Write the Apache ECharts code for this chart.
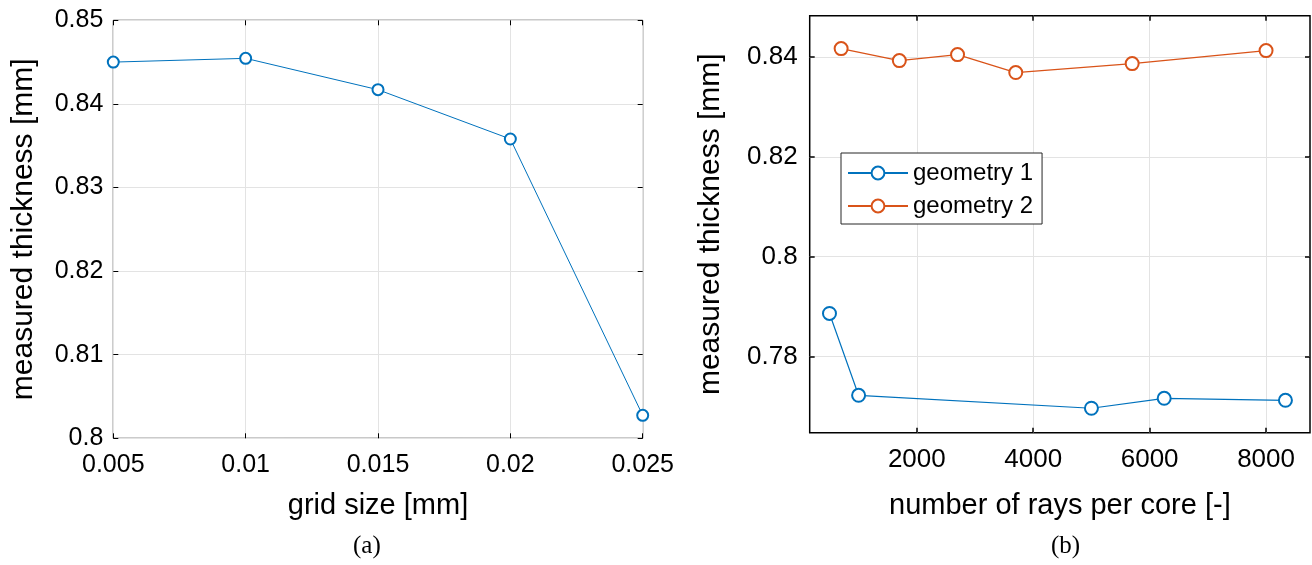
<!DOCTYPE html>
<html><head><meta charset="utf-8">
<script src="https://cdn.jsdelivr.net/npm/echarts@6/dist/echarts.min.js"></script>
<style>html,body{margin:0;padding:0;background:#fff}#c{width:1312px;height:565px}</style>
</head><body><div id="c"></div>
<script>
// (a) grid size study
const gridSize = [0.005, 0.010, 0.015, 0.020, 0.025];
const thicknessA = [0.8450, 0.84545, 0.8417, 0.8358, 0.80275];
// (b) rays per core study
const raysGeom1 = [500, 1000, 5000, 6250, 8333];
const thicknessGeom1 = [0.7886, 0.7722, 0.7696, 0.7716, 0.7712];
const raysGeom2 = [700, 1700, 2700, 3700, 5700, 8000];
const thicknessGeom2 = [0.8417, 0.8393, 0.8405, 0.8369, 0.8387, 0.8413];
const xTicksB = [2000, 4000, 6000, 8000];
const yTicksB = [0.78, 0.80, 0.82, 0.84];
const seriesNames = ['geometry 1', 'geometry 2'];
const captions = ['(a)', '(b)'];
const axisTitles = { xa: 'grid size [mm]', xb: 'number of rays per core [-]', y: 'measured thickness [mm]' };

const BLUE = '#0072BD', ORANGE = '#D95319';
const SANS = '"Liberation Sans", Arial, sans-serif';
const SERIF = '"Liberation Serif", "Times New Roman", serif';
const gridLine = { show: true, lineStyle: { color: '#e3e3e3', width: 1 } };

function pair(a, b) { return a.map((v, i) => [v, b[i]]); }

const chart = echarts.init(document.getElementById('c'), null, { renderer: 'canvas' });
const yFmtB = v => String(+(+v).toFixed(2));

const option = {
  animation: false,
  backgroundColor: '#fff',
  grid: [
    { left: 113.3, top: 20.3, width: 529.4, height: 418, show: true, borderColor: '#000', borderWidth: 1, backgroundColor: 'transparent' },
    { left: 809.7, top: 15.7, width: 500.3, height: 417, show: true, borderColor: '#000', borderWidth: 1.5, backgroundColor: 'transparent' }
  ],
  title: [
    { text: captions[0], left: 353, top: 534, padding: 0, textStyle: { fontFamily: SERIF, fontSize: 25, fontWeight: 'normal', color: '#000' } },
    { text: captions[1], left: 1051, top: 534, padding: 0, textStyle: { fontFamily: SERIF, fontSize: 25, fontWeight: 'normal', color: '#000' } }
  ],
  legend: {
    data: seriesNames, orient: 'vertical', left: 841, top: 153,
    itemWidth: 60, itemHeight: 16, itemGap: 9, padding: [8, 9, 6, 6],
    borderColor: '#262626', borderWidth: 1, backgroundColor: '#fff', borderRadius: 0,
    selectedMode: false,
    textStyle: { fontFamily: SANS, fontSize: 24, color: '#000' }
  },
  xAxis: [
    { type: 'value', gridIndex: 0, min: 0.005, max: 0.025, interval: 0.005,
      name: axisTitles.xa, nameLocation: 'middle', nameGap: 53,
      nameTextStyle: { fontFamily: SANS, fontSize: 29, color: '#000' },
      axisLine: { show: false }, axisTick: { inside: true, length: 5, lineStyle: { color: '#000' } },
      axisLabel: { fontFamily: SANS, fontSize: 25, color: '#000', margin: 14 }, splitLine: gridLine },
    { type: 'value', gridIndex: 0, position: 'top', min: 0.005, max: 0.025, interval: 0.005,
      axisLine: { show: false }, axisTick: { inside: true, length: 5, lineStyle: { color: '#000' } },
      axisLabel: { show: false }, splitLine: { show: false } },
    { type: 'value', gridIndex: 1, min: 160, max: 8755,
      name: axisTitles.xb, nameLocation: 'middle', nameGap: 59,
      nameTextStyle: { fontFamily: SANS, fontSize: 29, color: '#000' },
      axisLine: { show: false },
      axisTick: { inside: true, length: 5, customValues: xTicksB, lineStyle: { color: '#000', width: 1.5 } },
      axisLabel: { fontFamily: SANS, fontSize: 26, color: '#000', margin: 14, customValues: xTicksB, formatter: v => String(v) },
      splitLine: gridLine },
    { type: 'value', gridIndex: 1, position: 'top', min: 160, max: 8755,
      axisLine: { show: false },
      axisTick: { inside: true, length: 5, customValues: xTicksB, lineStyle: { color: '#000', width: 1.5 } },
      axisLabel: { show: false, customValues: xTicksB }, splitLine: { show: false } }
  ],
  yAxis: [
    { type: 'value', gridIndex: 0, min: 0.8, max: 0.85, interval: 0.01,
      name: axisTitles.y, nameLocation: 'middle', nameGap: 75,
      nameTextStyle: { fontFamily: SANS, fontSize: 30, color: '#000' },
      axisLine: { show: false }, axisTick: { inside: true, length: 5, lineStyle: { color: '#000' } },
      axisLabel: { fontFamily: SANS, fontSize: 25, color: '#000', margin: 10 }, splitLine: gridLine },
    { type: 'value', gridIndex: 0, position: 'right', min: 0.8, max: 0.85, interval: 0.01,
      axisLine: { show: false }, axisTick: { inside: true, length: 5, lineStyle: { color: '#000' } },
      axisLabel: { show: false }, splitLine: { show: false } },
    { type: 'value', gridIndex: 1, min: 0.7647, max: 0.8483,
      name: axisTitles.y, nameLocation: 'middle', nameGap: 84,
      nameTextStyle: { fontFamily: SANS, fontSize: 30, color: '#000' },
      axisLine: { show: false },
      axisTick: { inside: true, length: 5, customValues: yTicksB, lineStyle: { color: '#000', width: 1.5 } },
      axisLabel: { fontFamily: SANS, fontSize: 26, color: '#000', margin: 12, customValues: yTicksB, formatter: yFmtB },
      splitLine: gridLine },
    { type: 'value', gridIndex: 1, position: 'right', min: 0.7647, max: 0.8483,
      axisLine: { show: false },
      axisTick: { inside: true, length: 5, customValues: yTicksB, lineStyle: { color: '#000', width: 1.5 } },
      axisLabel: { show: false, customValues: yTicksB }, splitLine: { show: false } }
  ],
  series: [
    { name: 'grid size', type: 'line', xAxisIndex: 0, yAxisIndex: 0, data: pair(gridSize, thicknessA),
      symbol: 'emptyCircle', symbolSize: 11, color: BLUE,
      lineStyle: { width: 1, color: BLUE }, itemStyle: { color: BLUE, borderWidth: 1 } },
    { name: seriesNames[0], type: 'line', xAxisIndex: 2, yAxisIndex: 2, data: pair(raysGeom1, thicknessGeom1),
      symbol: 'emptyCircle', symbolSize: 13, color: BLUE,
      lineStyle: { width: 1.2, color: BLUE }, itemStyle: { color: BLUE, borderWidth: 1.2 } },
    { name: seriesNames[1], type: 'line', xAxisIndex: 2, yAxisIndex: 2, data: pair(raysGeom2, thicknessGeom2),
      symbol: 'emptyCircle', symbolSize: 13, color: ORANGE,
      lineStyle: { width: 1.2, color: ORANGE }, itemStyle: { color: ORANGE, borderWidth: 1.2 } }
  ]
};
chart.setOption(option);
</script>
</body></html>
